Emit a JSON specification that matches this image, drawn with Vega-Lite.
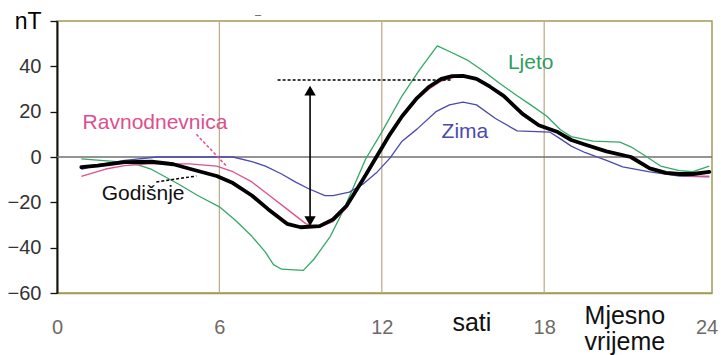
{
  "$schema": "https://vega.github.io/schema/vega-lite/v6.json",
  "width": 655,
  "height": 272,
  "autosize": {"type": "none"},
  "padding": {"left": 57, "top": 21, "right": 9, "bottom": 62},
  "background": "white",
  "config": {
    "view": {"stroke": "#a39a55", "strokeWidth": 1.5},
    "font": "Liberation Sans"
  },
  "datasets": {
    "series": [
      {"s": "Ljeto", "h": 0.9, "v": -0.8}, {"s": "Ljeto", "h": 2.2, "v": -2}, {"s": "Ljeto", "h": 3.0, "v": -3.5},
      {"s": "Ljeto", "h": 3.5, "v": -5.5}, {"s": "Ljeto", "h": 4.5, "v": -12}, {"s": "Ljeto", "h": 5.2, "v": -17},
      {"s": "Ljeto", "h": 6.0, "v": -22}, {"s": "Ljeto", "h": 6.6, "v": -28}, {"s": "Ljeto", "h": 7.2, "v": -35},
      {"s": "Ljeto", "h": 7.7, "v": -42}, {"s": "Ljeto", "h": 8.0, "v": -47.5}, {"s": "Ljeto", "h": 8.3, "v": -49.5},
      {"s": "Ljeto", "h": 9.1, "v": -50}, {"s": "Ljeto", "h": 9.5, "v": -45}, {"s": "Ljeto", "h": 10.1, "v": -35},
      {"s": "Ljeto", "h": 10.6, "v": -23}, {"s": "Ljeto", "h": 11.0, "v": -12}, {"s": "Ljeto", "h": 11.4, "v": -1},
      {"s": "Ljeto", "h": 12.0, "v": 11}, {"s": "Ljeto", "h": 12.75, "v": 27}, {"s": "Ljeto", "h": 13.4, "v": 38.5},
      {"s": "Ljeto", "h": 14.05, "v": 49}, {"s": "Ljeto", "h": 14.6, "v": 46}, {"s": "Ljeto", "h": 15.2, "v": 42.5},
      {"s": "Ljeto", "h": 15.8, "v": 37.5}, {"s": "Ljeto", "h": 16.3, "v": 33}, {"s": "Ljeto", "h": 17.0, "v": 27},
      {"s": "Ljeto", "h": 17.5, "v": 23}, {"s": "Ljeto", "h": 18.1, "v": 18}, {"s": "Ljeto", "h": 18.6, "v": 12},
      {"s": "Ljeto", "h": 19.0, "v": 9}, {"s": "Ljeto", "h": 19.8, "v": 7}, {"s": "Ljeto", "h": 20.8, "v": 6.6},
      {"s": "Ljeto", "h": 21.2, "v": 4.5}, {"s": "Ljeto", "h": 21.8, "v": 0}, {"s": "Ljeto", "h": 22.3, "v": -4},
      {"s": "Ljeto", "h": 23.0, "v": -6}, {"s": "Ljeto", "h": 23.5, "v": -6.5}, {"s": "Ljeto", "h": 24.1, "v": -4},

      {"s": "Zima", "h": 0.9, "v": -5.5}, {"s": "Zima", "h": 1.5, "v": -3.5}, {"s": "Zima", "h": 2.5, "v": -1.5},
      {"s": "Zima", "h": 3.7, "v": 0}, {"s": "Zima", "h": 6.5, "v": 0}, {"s": "Zima", "h": 7.2, "v": -2},
      {"s": "Zima", "h": 7.7, "v": -4}, {"s": "Zima", "h": 8.3, "v": -7.5}, {"s": "Zima", "h": 8.8, "v": -11},
      {"s": "Zima", "h": 9.3, "v": -14}, {"s": "Zima", "h": 9.9, "v": -17}, {"s": "Zima", "h": 10.2, "v": -17},
      {"s": "Zima", "h": 10.8, "v": -15.5}, {"s": "Zima", "h": 11.3, "v": -12}, {"s": "Zima", "h": 11.8, "v": -7},
      {"s": "Zima", "h": 12.3, "v": -0.5}, {"s": "Zima", "h": 12.75, "v": 7}, {"s": "Zima", "h": 13.3, "v": 12.3},
      {"s": "Zima", "h": 14.0, "v": 20}, {"s": "Zima", "h": 14.5, "v": 23}, {"s": "Zima", "h": 15.0, "v": 24.2},
      {"s": "Zima", "h": 15.5, "v": 23}, {"s": "Zima", "h": 16.2, "v": 17}, {"s": "Zima", "h": 17.0, "v": 11.5},
      {"s": "Zima", "h": 18.2, "v": 11}, {"s": "Zima", "h": 18.6, "v": 8}, {"s": "Zima", "h": 19.0, "v": 4.8},
      {"s": "Zima", "h": 19.5, "v": 2}, {"s": "Zima", "h": 20.3, "v": -1.5}, {"s": "Zima", "h": 20.9, "v": -4.4},
      {"s": "Zima", "h": 21.9, "v": -6.6}, {"s": "Zima", "h": 23.0, "v": -8.4}, {"s": "Zima", "h": 24.1, "v": -8.8},

      {"s": "Ravnodnevnica", "h": 0.9, "v": -8.5}, {"s": "Ravnodnevnica", "h": 1.8, "v": -5.3}, {"s": "Ravnodnevnica", "h": 2.5, "v": -3.8},
      {"s": "Ravnodnevnica", "h": 3.4, "v": -3}, {"s": "Ravnodnevnica", "h": 4.9, "v": -3}, {"s": "Ravnodnevnica", "h": 5.9, "v": -4},
      {"s": "Ravnodnevnica", "h": 6.5, "v": -6.5}, {"s": "Ravnodnevnica", "h": 7.2, "v": -11}, {"s": "Ravnodnevnica", "h": 7.8, "v": -16.5},
      {"s": "Ravnodnevnica", "h": 8.5, "v": -23}, {"s": "Ravnodnevnica", "h": 9.2, "v": -29.5}, {"s": "Ravnodnevnica", "h": 9.7, "v": -31},
      {"s": "Ravnodnevnica", "h": 10.2, "v": -28.5}, {"s": "Ravnodnevnica", "h": 10.7, "v": -22.5}, {"s": "Ravnodnevnica", "h": 11.3, "v": -10},
      {"s": "Ravnodnevnica", "h": 11.8, "v": 0}, {"s": "Ravnodnevnica", "h": 12.3, "v": 10}, {"s": "Ravnodnevnica", "h": 12.75, "v": 18},
      {"s": "Ravnodnevnica", "h": 13.3, "v": 25.5}, {"s": "Ravnodnevnica", "h": 13.75, "v": 30}, {"s": "Ravnodnevnica", "h": 14.2, "v": 33.5},
      {"s": "Ravnodnevnica", "h": 14.6, "v": 35}, {"s": "Ravnodnevnica", "h": 15.0, "v": 35.5}, {"s": "Ravnodnevnica", "h": 15.5, "v": 34.5},
      {"s": "Ravnodnevnica", "h": 16.0, "v": 31}, {"s": "Ravnodnevnica", "h": 16.5, "v": 27}, {"s": "Ravnodnevnica", "h": 17.2, "v": 19},
      {"s": "Ravnodnevnica", "h": 17.8, "v": 14}, {"s": "Ravnodnevnica", "h": 18.5, "v": 11}, {"s": "Ravnodnevnica", "h": 19.0, "v": 7.5},
      {"s": "Ravnodnevnica", "h": 19.5, "v": 5.5}, {"s": "Ravnodnevnica", "h": 20.3, "v": 2.5}, {"s": "Ravnodnevnica", "h": 21.2, "v": 0},
      {"s": "Ravnodnevnica", "h": 21.9, "v": -5}, {"s": "Ravnodnevnica", "h": 22.5, "v": -7.5}, {"s": "Ravnodnevnica", "h": 23.0, "v": -8},
      {"s": "Ravnodnevnica", "h": 23.5, "v": -8.5}, {"s": "Ravnodnevnica", "h": 24.1, "v": -8.5},

      {"s": "Godišnje", "h": 0.9, "v": -4.5}, {"s": "Godišnje", "h": 1.5, "v": -3.8}, {"s": "Godišnje", "h": 2.5, "v": -2.3},
      {"s": "Godišnje", "h": 3.5, "v": -2.1}, {"s": "Godišnje", "h": 4.3, "v": -3.2}, {"s": "Godišnje", "h": 5.0, "v": -5.5},
      {"s": "Godišnje", "h": 5.9, "v": -8.4}, {"s": "Godišnje", "h": 6.5, "v": -11.5}, {"s": "Godišnje", "h": 7.2, "v": -17},
      {"s": "Godišnje", "h": 7.8, "v": -23}, {"s": "Godišnje", "h": 8.5, "v": -29.5}, {"s": "Godišnje", "h": 9.0, "v": -31},
      {"s": "Godišnje", "h": 9.7, "v": -30.5}, {"s": "Godišnje", "h": 10.2, "v": -27.5}, {"s": "Godišnje", "h": 10.7, "v": -21.5},
      {"s": "Godišnje", "h": 11.3, "v": -10}, {"s": "Godišnje", "h": 11.8, "v": 0}, {"s": "Godišnje", "h": 12.3, "v": 10},
      {"s": "Godišnje", "h": 12.75, "v": 18}, {"s": "Godišnje", "h": 13.3, "v": 26}, {"s": "Godišnje", "h": 13.75, "v": 31},
      {"s": "Godišnje", "h": 14.2, "v": 34.5}, {"s": "Godišnje", "h": 14.6, "v": 35.7}, {"s": "Godišnje", "h": 15.0, "v": 35.8},
      {"s": "Godišnje", "h": 15.5, "v": 34.5}, {"s": "Godišnje", "h": 16.0, "v": 31}, {"s": "Godišnje", "h": 16.5, "v": 27},
      {"s": "Godišnje", "h": 17.2, "v": 19}, {"s": "Godišnje", "h": 17.8, "v": 14}, {"s": "Godišnje", "h": 18.5, "v": 11},
      {"s": "Godišnje", "h": 19.0, "v": 7.5}, {"s": "Godišnje", "h": 19.5, "v": 5.5}, {"s": "Godišnje", "h": 20.3, "v": 2.5},
      {"s": "Godišnje", "h": 21.2, "v": 0}, {"s": "Godišnje", "h": 21.9, "v": -5}, {"s": "Godišnje", "h": 22.5, "v": -7},
      {"s": "Godišnje", "h": 23.0, "v": -7.5}, {"s": "Godišnje", "h": 23.5, "v": -7.5}, {"s": "Godišnje", "h": 24.1, "v": -6.6}
    ],
    "grid": [{"h": 6}, {"h": 12}, {"h": 18}],
    "dashes": [
      {"k": "amp", "h": 8.15, "h2": 14.6, "v": 34, "v2": 34, "c": "black"},
      {"k": "rav", "h": 5.15, "h2": 6.26, "v": 10, "v2": -4, "c": "#e0508f"},
      {"k": "god", "h": 3.67, "h2": 5.15, "v": -11, "v2": -8.4, "c": "black"}
    ],
    "arrow": [{"h": 9.35, "v": 30, "v2": -29}],
    "heads": [
      {"h": 9.35, "v": 29.3, "shape": "triangle-up"},
      {"h": 9.35, "v": -28.3, "shape": "triangle-down"}
    ],
    "labels": [
      {"t": "Ravnodnevnica", "h": 3.62, "v": 15, "c": "#dc4f8e", "fs": 21},
      {"t": "Godišnje", "h": 3.18, "v": -16.3, "c": "#111111", "fs": 21},
      {"t": "Ljeto", "h": 17.5, "v": 41.5, "c": "#2e9e5e", "fs": 21},
      {"t": "Zima", "h": 15.07, "v": 11, "c": "#4b4bab", "fs": 21},
      {"t": "sati", "h": 15.33, "v": -73.2, "c": "#111111", "fs": 25},
      {"t": "Mjesno", "h": 20.98, "v": -70.1, "c": "#111111", "fs": 25},
      {"t": "vrijeme", "h": 20.98, "v": -81.5, "c": "#111111", "fs": 25},
      {"t": "–", "h": 7.43, "v": 62.6, "c": "#555555", "fs": 11}
    ]
  },
  "layer": [
    {
      "data": {"name": "grid"},
      "mark": {"type": "rule", "color": "#bfae8c", "strokeWidth": 1.3},
      "encoding": {
        "x": {
          "field": "h", "type": "quantitative",
          "scale": {"domain": [0, 24.2], "nice": false, "zero": false},
          "axis": {
            "values": [0, 6, 12, 18, 24], "title": null, "grid": false, "ticks": false,
            "domainColor": "#a39a55", "domainWidth": 1.5,
            "labelColor": "#6e6a66", "labelFontSize": 20, "labelFont": "Liberation Sans",
            "labelPadding": 24, "labelFlush": false, "labelOverlap": false
          }
        },
        "y": {
          "datum": -60, "type": "quantitative",
          "scale": {"domain": [-60, 60], "nice": false},
          "axis": {
            "values": [-60, -40, -20, 0, 20, 40, 60], "title": null, "grid": false,
            "labelExpr": "datum.value == 60 ? 'nT' : datum.label",
            "domainColor": "#111111", "domainWidth": 2,
            "tickColor": "#111111", "tickSize": 7, "tickWidth": 1.3,
            "labelColor": {"condition": {"test": "datum.value == 60", "value": "#000000"}, "value": "#333333"},
            "labelFontSize": {"condition": {"test": "datum.value == 60", "value": 23}, "value": 20},
            "labelFont": "Liberation Sans",
            "labelPadding": 9, "labelOverlap": false
          }
        },
        "y2": {"datum": 60}
      }
    },
    {
      "data": {"values": [{"v": 0}]},
      "mark": {"type": "rule", "color": "#707070", "strokeWidth": 1.5},
      "encoding": {
        "y": {"field": "v", "type": "quantitative"}
      }
    },
    {
      "data": {"name": "series"},
      "transform": [{"filter": "datum.s != 'Godišnje'"}],
      "mark": {"type": "line", "interpolate": "linear", "strokeWidth": 1.3, "strokeJoin": "round"},
      "encoding": {
        "x": {"field": "h", "type": "quantitative"},
        "y": {"field": "v", "type": "quantitative"},
        "color": {
          "field": "s", "type": "nominal", "legend": null,
          "scale": {
            "domain": ["Ljeto", "Zima", "Ravnodnevnica", "Godišnje"],
            "range": ["#34a866", "#4a4ab0", "#e0508f", "#000000"]
          }
        },
        "order": {"field": "h", "type": "quantitative"}
      }
    },
    {
      "data": {"name": "series"},
      "transform": [{"filter": "datum.s == 'Godišnje'"}],
      "mark": {"type": "line", "interpolate": "linear", "strokeWidth": 3.8, "color": "#000000", "strokeJoin": "round", "strokeCap": "round"},
      "encoding": {
        "x": {"field": "h", "type": "quantitative"},
        "y": {"field": "v", "type": "quantitative"},
        "order": {"field": "h", "type": "quantitative"}
      }
    },
    {
      "data": {"name": "dashes"},
      "mark": {"type": "rule", "strokeDash": [3, 2], "strokeWidth": 1.5},
      "encoding": {
        "x": {"field": "h", "type": "quantitative"},
        "x2": {"field": "h2"},
        "y": {"field": "v", "type": "quantitative"},
        "y2": {"field": "v2"},
        "color": {"field": "c", "type": "nominal", "scale": null}
      }
    },
    {
      "data": {"name": "arrow"},
      "mark": {"type": "rule", "color": "black", "strokeWidth": 1.6},
      "encoding": {
        "x": {"field": "h", "type": "quantitative"},
        "y": {"field": "v", "type": "quantitative"},
        "y2": {"field": "v2"}
      }
    },
    {
      "data": {"name": "heads"},
      "mark": {"type": "point", "filled": true, "color": "black", "size": 130, "opacity": 1},
      "encoding": {
        "x": {"field": "h", "type": "quantitative"},
        "y": {"field": "v", "type": "quantitative"},
        "shape": {"field": "shape", "type": "nominal", "scale": null}
      }
    },
    {
      "data": {"name": "labels"},
      "mark": {"type": "text", "font": "Liberation Sans", "align": "center", "baseline": "middle"},
      "encoding": {
        "x": {"field": "h", "type": "quantitative"},
        "y": {"field": "v", "type": "quantitative"},
        "text": {"field": "t"},
        "color": {"field": "c", "type": "nominal", "scale": null},
        "size": {"field": "fs", "type": "quantitative", "scale": null}
      }
    }
  ]
}
